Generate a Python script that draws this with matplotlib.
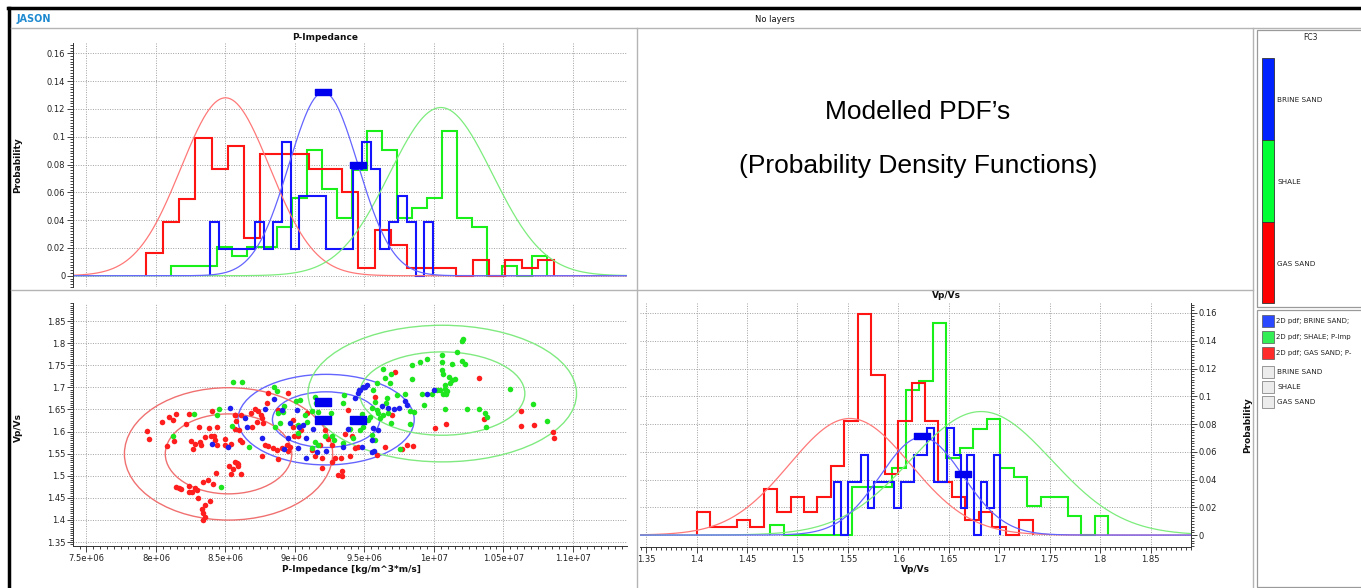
import numpy as np
import matplotlib.pyplot as plt
from matplotlib.patches import Ellipse, Rectangle
from matplotlib.lines import Line2D
from matplotlib.ticker import MultipleLocator, FuncFormatter

# ---------------- data ----------------
# facies: brine sand (blue), shale (green), gas sand (red)

# histogram counts, 25 bins per facies over each facies' own min/max
ip_counts_brine = [2, 1, 1, 1, 1, 2, 1, 2, 5, 1, 3, 3, 3, 1, 1, 1, 4, 5, 4, 1, 2, 3, 2, 0, 2]
ip_counts_shale = [1, 1, 1, 3, 2, 3, 3, 5, 8, 13, 9, 6, 11, 15, 13, 6, 7, 8, 15, 6, 5, 0, 1, 0, 2]
ip_counts_gas = [3, 7, 10, 18, 14, 17, 5, 16, 16, 16, 14, 14, 11, 1, 6, 4, 1, 1, 1, 0, 2, 0, 2, 1, 2]
ip_range_brine = (8.390e6, 9.996e6)
ip_range_shale = (8.111e6, 10.815e6)
ip_range_gas = (7.930e6, 10.865e6)

vp_counts_brine = [2, 0, 2, 2, 3, 1, 2, 2, 2, 1, 2, 2, 3, 3, 4, 2, 2, 4, 3, 1, 3, 0, 2, 1, 3]
vp_counts_shale = [1, 0, 0, 0, 0, 0, 5, 5, 5, 7, 15, 16, 22, 8, 9, 11, 12, 7, 6, 3, 4, 4, 2, 0, 2]
vp_counts_gas = [3, 1, 1, 2, 1, 6, 3, 5, 3, 5, 9, 15, 29, 21, 8, 15, 20, 15, 7, 5, 2, 3, 1, 0, 2]
vp_range_brine = (1.5367, 1.7012)
vp_range_shale = (1.4733, 1.8080)
vp_range_gas = (1.4000, 1.7330)

# modelled 1D pdfs: mean, std, peak height
ip_pdf_brine = (9.205e6, 0.248e6, 0.132)
ip_pdf_shale = (10.05e6, 0.37e6, 0.121)
ip_pdf_gas = (8.50e6, 0.32e6, 0.128)
vp_pdf_brine = (1.623, 0.041, 0.0705)
vp_pdf_shale = (1.682, 0.070, 0.089)
vp_pdf_gas = (1.552, 0.060, 0.084)

# blue edit handles
ip_handle_x = [9.205e6, 9.453e6]
ip_handle_y = [0.132, 0.0795]
vp_handle_x = [1.623, 1.664]
vp_handle_y = [0.0714, 0.044]
xp_handle_ip = [9.205e6, 9.205e6, 9.453e6]
xp_handle_vp = [1.667, 1.626, 1.626]

# 2D pdf contour ellipses: centre, inner and outer half axes (brine, shale, gas)
ell_ip = [9.224e6, 10.06e6, 8.522e6]
ell_vp = [1.627, 1.686, 1.5495]
ell_inner_ip = [0.386e6, 0.594e6, 0.455e6]
ell_inner_vp = [0.063, 0.0943, 0.0905]
ell_outer_ip = [0.634e6, 0.966e6, 0.749e6]
ell_outer_vp = [0.1025, 0.1546, 0.1498]

# crossplot samples, P-Impedance in 1e6 kg/m^3*m/s
gas_ip6 = [7.935, 7.950, 8.043, 8.091, 8.120, 8.147, 8.216, 8.240, 8.308, 8.404,
           8.380, 8.440, 8.082, 8.132, 8.255, 8.284, 8.267, 8.320, 8.327, 8.356,
           8.397, 8.416, 8.428, 8.440, 8.495, 8.500, 8.538, 8.572, 8.577, 8.567,
           8.596, 8.529, 8.555, 8.541, 8.584, 8.591, 8.433, 8.337, 8.375, 8.409,
           8.240, 8.284, 8.296, 8.260, 8.144, 8.163, 8.180, 8.240, 8.303, 8.392,
           8.351, 8.330, 8.340, 8.350, 8.337,
           8.568, 8.611, 8.683, 8.712, 8.731, 8.755, 8.808, 8.801, 8.952, 8.880,
           8.604, 8.621, 8.688, 8.724, 8.760, 8.772, 8.784, 8.760, 8.808, 8.844,
           8.868, 8.880, 8.904, 8.940, 8.947, 8.964, 8.988, 8.988, 8.995, 9.019,
           9.043, 9.084, 9.120, 9.144, 9.180, 9.192, 9.197, 9.216, 9.235, 9.264,
           9.288, 9.307, 9.336, 9.331, 9.360, 9.379, 9.396, 9.408, 9.432, 9.456,
           8.568, 8.592, 8.611, 9.264, 9.336,
           9.721, 9.577, 9.697, 10.009, 10.086, 9.649, 9.805, 9.850, 9.592, 9.770,
           10.322, 10.627, 10.358, 10.627, 10.723, 10.855, 10.867]
gas_vp = [1.602, 1.583, 1.622, 1.634, 1.626, 1.639, 1.617, 1.640, 1.611, 1.647,
          1.609, 1.610, 1.568, 1.579, 1.578, 1.572, 1.561, 1.576, 1.570, 1.587,
          1.589, 1.590, 1.581, 1.570, 1.584, 1.570, 1.572, 1.637, 1.625, 1.605,
          1.604, 1.523, 1.515, 1.505, 1.529, 1.521, 1.506, 1.486, 1.490, 1.482,
          1.476, 1.473, 1.467, 1.464, 1.474, 1.472, 1.471, 1.463, 1.450, 1.442,
          1.434, 1.425, 1.415, 1.407, 1.400,
          1.637, 1.637, 1.641, 1.650, 1.646, 1.637, 1.688, 1.665, 1.688, 1.649,
          1.581, 1.577, 1.611, 1.622, 1.630, 1.619, 1.570, 1.545, 1.568, 1.562,
          1.559, 1.538, 1.562, 1.570, 1.555, 1.565, 1.626, 1.611, 1.590, 1.589,
          1.604, 1.643, 1.559, 1.545, 1.570, 1.540, 1.517, 1.604, 1.583, 1.570,
          1.540, 1.502, 1.510, 1.540, 1.595, 1.649, 1.545, 1.589, 1.562, 1.566,
          1.530, 1.526, 1.505, 1.530, 1.500,
          1.735, 1.679, 1.637, 1.609, 1.617, 1.566, 1.570, 1.567, 1.547, 1.560,
          1.722, 1.647, 1.628, 1.613, 1.615, 1.598, 1.586]

brine_ip6 = [8.534, 8.404, 8.517,
             8.851, 8.784, 8.640, 8.652, 8.760, 8.904, 8.964, 9.012, 9.029, 9.060,
             9.077, 8.952, 8.923, 9.024, 9.077, 9.156, 9.132, 9.221, 9.348, 9.379,
             9.461,
             9.457, 9.469, 9.486, 9.505, 9.517, 9.433, 9.949, 10.000, 9.793, 9.805,
             9.745, 9.716, 9.673, 9.625, 9.565, 9.601, 9.481, 9.553, 9.568, 9.553]
brine_vp = [1.654, 1.572, 1.565,
            1.673, 1.650, 1.630, 1.611, 1.585, 1.649, 1.619, 1.649, 1.611, 1.615,
            1.585, 1.585, 1.560, 1.562, 1.540, 1.553, 1.605, 1.555, 1.565, 1.605,
            1.694,
            1.688, 1.694, 1.700, 1.702, 1.705, 1.677, 1.684, 1.694, 1.669, 1.660,
            1.654, 1.650, 1.654, 1.657, 1.607, 1.604, 1.566, 1.581, 1.557, 1.553]

shale_ip6 = [8.553, 8.272, 8.457, 8.440, 8.548, 8.120, 8.466,
             8.621, 8.851, 8.868, 8.923, 8.880, 8.856, 8.669, 8.892, 8.916, 9.007,
             9.038, 9.144, 9.151, 9.125, 9.168, 9.259, 9.350, 9.348, 9.072, 9.084,
             9.144, 9.163, 9.264, 9.283, 9.348, 9.420, 9.125, 9.024, 9.019, 9.216,
             9.396,
             10.201, 10.210, 10.057, 10.165, 9.949, 9.901, 9.841, 10.057, 10.129, 10.201,
             10.225, 9.637, 9.692, 9.649, 9.685, 9.841, 10.057, 10.064, 10.105, 10.131,
             10.153, 10.117, 10.081, 10.076, 10.045, 10.021, 10.093, 10.062, 10.088, 9.913,
             9.985, 9.925, 10.076, 10.235, 9.793, 9.733, 9.661, 9.589, 9.565, 9.658,
             9.577, 9.553, 9.589, 9.601, 9.630, 9.613, 9.673, 9.692, 9.829, 9.860,
             9.829, 9.541, 9.529, 9.469, 9.493, 9.553, 9.577, 9.757, 9.481,
             10.548, 10.711, 10.327, 10.370, 10.380, 10.375, 10.812]
shale_vp = [1.712, 1.640, 1.651, 1.637, 1.613, 1.590, 1.475,
            1.712, 1.700, 1.691, 1.658, 1.641, 1.611, 1.566, 1.619, 1.645, 1.670,
            1.671, 1.679, 1.665, 1.646, 1.645, 1.641, 1.682, 1.664, 1.637, 1.622,
            1.577, 1.570, 1.589, 1.580, 1.574, 1.585, 1.562, 1.596, 1.615, 1.590,
            1.605,
            1.804, 1.810, 1.774, 1.779, 1.765, 1.757, 1.751, 1.757, 1.752, 1.760,
            1.753, 1.742, 1.731, 1.721, 1.711, 1.718, 1.739, 1.730, 1.724, 1.716,
            1.720, 1.709, 1.705, 1.697, 1.694, 1.694, 1.692, 1.686, 1.684, 1.686,
            1.686, 1.660, 1.652, 1.652, 1.684, 1.682, 1.675, 1.709, 1.694, 1.664,
            1.667, 1.654, 1.649, 1.642, 1.637, 1.630, 1.641, 1.620, 1.647, 1.645,
            1.617, 1.634, 1.626, 1.604, 1.611, 1.592, 1.581, 1.560, 1.640,
            1.697, 1.662, 1.650, 1.641, 1.632, 1.611, 1.624]

facies = ['BRINE SAND', 'SHALE', 'GAS SAND']
# legend entries as far as the panel shows them
pdf_legend = ['2D pdf; BRINE SAND;', '2D pdf; SHALE; P-Imp', '2D pdf; GAS SAND; P-']

# ---------------- styling ----------------
W, H = 1361, 588
BLUE, GREEN, RED = '#1414ff', '#19f019', '#ff1414'
CBLUE, CGREEN, CRED = '#6464ff', '#7cec7c', '#ff7878'


def fx(px):
    return px / W


def fy(py):
    return 1 - py / H


gfmt = FuncFormatter(lambda v, p: '%g' % v)


def style(ax):
    ax.set_facecolor('white')
    ax.grid(True, which='major', color='#a0a0a0', linestyle=(0, (1, 1.5)), lw=0.7)
    ax.set_axisbelow(True)
    ax.tick_params(which='both', labelsize=6, direction='out', width=0.6,
                   colors='#222222', pad=1.5)
    ax.tick_params(which='major', length=4)
    ax.tick_params(which='minor', length=2)
    for s in ax.spines.values():
        s.set_linewidth(0.7)
        s.set_color('#333333')


def gauss(x, p):
    mu, sd, peak = p
    return peak * np.exp(-0.5 * ((x - mu) / sd) ** 2)


def edges(rng, counts):
    return np.linspace(rng[0], rng[1], len(counts) + 1)


def probs(counts):
    c = np.array(counts, dtype=float)
    return c / c.sum()


plt.rcParams['font.family'] = ['DejaVu Sans']
fig = plt.figure(figsize=(W / 100, H / 100), dpi=100)
fig.patch.set_facecolor('white')

IP_LIM = (7.403e6, 11.389e6)

# ---------------- top left: P-Impedance pdfs ----------------
ax1 = fig.add_axes([fx(73), fy(287), fx(627) - fx(73), fy(43) - fy(287)])
style(ax1)
x_ip = np.linspace(IP_LIM[0], IP_LIM[1], 500)
for p, c in [(ip_pdf_gas, CRED), (ip_pdf_shale, CGREEN), (ip_pdf_brine, CBLUE)]:
    ax1.plot(x_ip, gauss(x_ip, p), color=c, lw=0.9)
for cnt, rng, c in [(ip_counts_shale, ip_range_shale, GREEN),
                    (ip_counts_gas, ip_range_gas, RED),
                    (ip_counts_brine, ip_range_brine, BLUE)]:
    ax1.stairs(probs(cnt), edges(rng, cnt), baseline=0, color=c, lw=1.5)
hmark = [(-1, -0.38), (1, -0.38), (1, 0.38), (-1, 0.38), (-1, -0.38)]
ax1.plot(ip_handle_x, ip_handle_y, ls='none', marker=hmark, ms=12,
         color='#0000ee', mec='#0000ee', zorder=5)
ax1.set_xlim(*IP_LIM)
ax1.set_ylim(-0.0081, 0.1674)
ax1.xaxis.set_major_locator(MultipleLocator(0.5e6))
ax1.yaxis.set_major_locator(MultipleLocator(0.02))
ax1.yaxis.set_minor_locator(MultipleLocator(0.002))
ax1.yaxis.set_major_formatter(gfmt)
ax1.tick_params(axis='x', which='both', length=0, labelbottom=False)
for s in ['top', 'right', 'bottom']:
    ax1.spines[s].set_visible(False)

# ---------------- bottom left: crossplot ----------------
ax2 = fig.add_axes([fx(73), fy(546), fx(627) - fx(73), fy(303) - fy(546)])
style(ax2)
ellc = [CBLUE, '#80ea80', '#f07070']
for i in range(3):
    for hw, hh in [(ell_inner_ip[i], ell_inner_vp[i]), (ell_outer_ip[i], ell_outer_vp[i])]:
        ax2.add_patch(Ellipse((ell_ip[i], ell_vp[i]), 2 * hw, 2 * hh, fill=False,
                              edgecolor=ellc[i], lw=1.0, zorder=2))
ax2.scatter(np.array(gas_ip6) * 1e6, gas_vp, s=16, color='#ff1e1e', lw=0, zorder=3)
ax2.scatter(np.array(shale_ip6) * 1e6, shale_vp, s=16, color='#1ee61e', lw=0, zorder=3)
ax2.scatter(np.array(brine_ip6) * 1e6, brine_vp, s=16, color='#1e1ef0', lw=0, zorder=4)
xmark = [(-1, -0.5), (1, -0.5), (1, 0.5), (-1, 0.5), (-1, -0.5)]
ax2.plot(xp_handle_ip, xp_handle_vp, ls='none', marker=xmark, ms=12,
         color='#0000ee', mec='#0000ee', zorder=5)
ax2.set_xlim(*IP_LIM)
ax2.set_ylim(1.341, 1.891)
ax2.xaxis.set_major_locator(MultipleLocator(0.5e6))
ax2.xaxis.set_minor_locator(MultipleLocator(0.05e6))
ax2.yaxis.set_major_locator(MultipleLocator(0.05))
ax2.yaxis.set_minor_locator(MultipleLocator(0.005))
ax2.xaxis.set_major_formatter(gfmt)
ax2.yaxis.set_major_formatter(gfmt)
for s in ['top', 'right']:
    ax2.spines[s].set_visible(False)

# ---------------- bottom right: Vp/Vs pdfs ----------------
ax3 = fig.add_axes([fx(640), fy(547), fx(1191) - fx(640), fy(303) - fy(547)])
style(ax3)
x_vp = np.linspace(1.344, 1.89, 500)
for p, c in [(vp_pdf_gas, CRED), (vp_pdf_shale, CGREEN), (vp_pdf_brine, CBLUE)]:
    ax3.plot(x_vp, gauss(x_vp, p), color=c, lw=0.9)
for cnt, rng, c in [(vp_counts_shale, vp_range_shale, GREEN),
                    (vp_counts_gas, vp_range_gas, RED),
                    (vp_counts_brine, vp_range_brine, BLUE)]:
    ax3.stairs(probs(cnt), edges(rng, cnt), baseline=0, color=c, lw=1.5)
ax3.plot(vp_handle_x, vp_handle_y, ls='none', marker=hmark, ms=11,
         color='#0000ee', mec='#0000ee', zorder=5)
ax3.set_xlim(1.344, 1.89)
ax3.set_ylim(-0.0086, 0.1672)
ax3.xaxis.set_major_locator(MultipleLocator(0.05))
ax3.xaxis.set_minor_locator(MultipleLocator(0.005))
ax3.yaxis.set_major_locator(MultipleLocator(0.02))
ax3.yaxis.set_minor_locator(MultipleLocator(0.002))
ax3.xaxis.set_major_formatter(gfmt)
ax3.yaxis.set_major_formatter(gfmt)
ax3.yaxis.tick_right()
for s in ['top', 'left']:
    ax3.spines[s].set_visible(False)

# ---------------- axis titles / labels ----------------
lab = dict(fontsize=6.5, fontweight='bold', color='#111111', ha='center', va='center')
fig.text(fx(325), fy(37), 'P-Impedance', **lab)
fig.text(fx(18), fy(165), 'Probability', rotation=90, **lab)
fig.text(fx(18), fy(427), 'Vp/Vs', rotation=90, **lab)
fig.text(fx(351), fy(569), 'P-Impedance [kg/m^3*m/s]', **lab)
fig.text(fx(946), fy(296), 'Vp/Vs', **lab)
fig.text(fx(915), fy(569), 'Vp/Vs', **lab)
fig.text(fx(1248), fy(425), 'Probability', rotation=90, **lab)

big = dict(fontsize=19, family=['Liberation Sans', 'DejaVu Sans'], ha='center', va='center')
fig.text(fx(918), fy(112), 'Modelled PDF\u2019s', **big)
fig.text(fx(918), fy(166), '(Probability Density Functions)', **big)

# ---------------- window chrome ----------------
fig.text(fx(17), fy(19), 'JASON', fontsize=7, fontweight='bold', color='#1f8ad0', va='center')
fig.text(fx(775), fy(19), 'No layers', fontsize=6, color='#111111', ha='center', va='center')


def fline(xs, ys, c='#b4b4b4', lw=1.0):
    fig.add_artist(Line2D([fx(v) for v in xs], [fy(v) for v in ys], color=c, lw=lw,
                          transform=fig.transFigure))


fline([8, W], [8, 8], c='black', lw=2.5)
fline([9, 9], [8, H], c='black', lw=2.5)
fline([11, W], [28, 28])
fline([637, 637], [28, H])
fline([11, 1253], [290, 290])
fline([1253, 1253], [28, H])

# ---------------- legend panels ----------------
for y0, y1 in [(30, 307), (310, H - 1)]:
    fig.add_artist(Rectangle((fx(1257), fy(y1)), fx(W) - fx(1257) + 0.01, fy(y0) - fy(y1),
                             transform=fig.transFigure, fill=False, ec='#9a9a9a', lw=0.9))
fig.text(fx(1310), fy(38), 'FC3', fontsize=5.5, ha='center', va='center', color='#222222')
cb_cols = ['#0022ff', '#00ff33', '#ff0000']
cb_bounds = [(58, 140), (140, 222), (222, 303)]
for col, (a, b), name in zip(cb_cols, cb_bounds, facies):
    fig.add_artist(Rectangle((fx(1262), fy(b)), fx(1274) - fx(1262), fy(a) - fy(b),
                             transform=fig.transFigure, fc=col, ec='#333333', lw=0.6))
    fig.text(fx(1277), fy((a + b) / 2 + 1), name, fontsize=5.2, va='center', color='#222222')

sw_cols = ['#2a48ff', '#33ee55', '#ff2a2a']
for col, yc, name in zip(sw_cols, [321, 337, 353], pdf_legend):
    fig.add_artist(Rectangle((fx(1262), fy(yc + 6)), fx(1274) - fx(1262), fy(yc - 6) - fy(yc + 6),
                             transform=fig.transFigure, fc=col, ec='#555555', lw=0.5))
    fig.text(fx(1276), fy(yc), name, fontsize=5.0, va='center', color='#222222')
for yc, name in zip([372, 387, 402], facies):
    fig.add_artist(Rectangle((fx(1262), fy(yc + 6)), fx(1274) - fx(1262), fy(yc - 6) - fy(yc + 6),
                             transform=fig.transFigure, fc='#ececec', ec='#888888', lw=0.6))
    fig.text(fx(1277), fy(yc), name, fontsize=5.2, va='center', color='#222222')

fig.savefig('out.png', dpi=100)
